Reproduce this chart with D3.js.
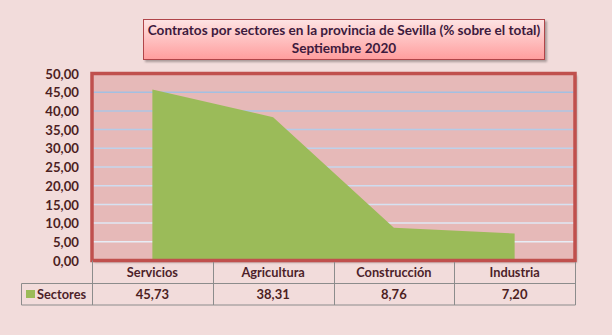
<!DOCTYPE html>
<html><head><meta charset="utf-8">
<script src="https://cdn.jsdelivr.net/npm/d3@7"></script>
<style>
html,body{margin:0;padding:0;background:#f2dcdb;}
svg{display:block;}
text{font-family:Lato,"Open Sans",sans-serif;font-weight:bold;}
</style></head>
<body>
<svg id="chart" width="612" height="335"></svg>
<script>
const categories = ["Servicios","Agricultura","Construcción","Industria"];
const values = [45.73, 38.31, 8.76, 7.20];
const seriesName = "Sectores";
const yTicks = [0,5,10,15,20,25,30,35,40,45,50];
const titleLines = ["Contratos por sectores en la provincia de Sevilla (% sobre el total)","Septiembre 2020"];

const fmt = v => d3.format(".2f")(v).replace(".", ",");
const svg = d3.select("#chart");
const W = 612, H = 335;
svg.append("rect").attr("width",W).attr("height",H).attr("fill","#f2dcdb");

const L = 92, R = 575, T = 73.5, B = 260.5;
const x = d3.scaleBand().domain(categories).range([L,R]).padding(0);
const y = d3.scaleLinear().domain([0,50]).range([B,T]);

const defs = svg.append("defs");
const tg = defs.append("linearGradient").attr("id","tg").attr("x1",0).attr("y1",0).attr("x2",0).attr("y2",1);
tg.append("stop").attr("offset","0%").attr("stop-color","#fde4e4");
tg.append("stop").attr("offset","100%").attr("stop-color","#ff9d9d");
const sh = defs.append("filter").attr("id","sh").attr("x","-10%").attr("y","-10%").attr("width","130%").attr("height","140%");
sh.append("feDropShadow").attr("dx",2).attr("dy",2).attr("stdDeviation",1.2).attr("flood-color","#000").attr("flood-opacity",0.3);

// plot area
svg.append("rect").attr("x",L).attr("y",T).attr("width",R-L).attr("height",B-T)
  .attr("fill","#e6b9b8").attr("filter","url(#sh)");

// gridlines
svg.append("g").selectAll("line").data(yTicks.filter(t=>t>0 && t<50)).join("line")
  .attr("x1",L).attr("x2",R).attr("y1",d=>y(d)).attr("y2",d=>y(d))
  .attr("stroke", d => d3.interpolateRgb("#f0f3f9","#a3c0e2")(d/45)).attr("stroke-width",1.5);

// area
const area = d3.area().x(d=>x(d.c)+x.bandwidth()/2).y0(y(0)).y1(d=>y(d.v));
svg.append("path").datum(categories.map((c,i)=>({c, v:values[i]})))
  .attr("d", area).attr("fill","#9bbb59");

// plot border
svg.append("rect").attr("x",L).attr("y",T).attr("width",R-L).attr("height",B-T)
  .attr("fill","none").attr("stroke","#c0504d").attr("stroke-width",3.5);

// y axis labels
const yAxis = d3.axisLeft(y).tickValues(yTicks).tickFormat(fmt).tickSize(0).tickPadding(0);
const ga = svg.append("g").attr("transform",`translate(79,0)`).call(yAxis);
ga.select(".domain").remove();
ga.selectAll("text").attr("font-size","13.2px").attr("fill","#4d1f1f").attr("font-family","Lato,sans-serif").attr("font-weight","bold").attr("dy","0.35em");

// table
const rowTop = 260.5, rowMid = 283.5, rowBot = 305;
const tb = svg.append("g").attr("stroke","#8c8c8c").attr("stroke-width",1).attr("fill","none");
const edges = [L, ...categories.map(c=>x(c)+x.bandwidth())];
edges.forEach((ex,i)=>{
  tb.append("line").attr("x1",Math.round(ex)+0.5).attr("x2",Math.round(ex)+0.5)
    .attr("y1", i===0 ? rowTop : rowTop+1.5).attr("y2",rowBot);
});
tb.append("line").attr("x1",21.5).attr("x2",R+0.5).attr("y1",rowMid).attr("y2",rowMid);
tb.append("line").attr("x1",21.5).attr("x2",R+0.5).attr("y1",rowBot).attr("y2",rowBot);
tb.append("line").attr("x1",21.5).attr("x2",21.5).attr("y1",rowMid).attr("y2",rowBot);

svg.append("g").selectAll("text").data(categories).join("text")
  .attr("x",d=>x(d)+x.bandwidth()/2).attr("y",277).attr("text-anchor","middle")
  .attr("font-size","12.8px").attr("fill","#4d1f2a").text(d=>d);
svg.append("g").selectAll("text").data(values).join("text")
  .attr("x",(d,i)=>x(categories[i])+x.bandwidth()/2).attr("y",299).attr("text-anchor","middle")
  .attr("font-size","13px").attr("fill","#4d1f1f").text(d=>fmt(d));

// legend key
svg.append("rect").attr("x",26).attr("y",290).attr("width",9).attr("height",8).attr("fill","#9bbb59");
svg.append("text").attr("x",37).attr("y",299).attr("font-size","12.8px").attr("fill","#4d1f2a").text(seriesName);

// title box
svg.append("rect").attr("x",143.5).attr("y",19.5).attr("width",401).attr("height",40)
  .attr("fill","url(#tg)").attr("stroke","#b0444a").attr("stroke-width",1).attr("filter","url(#sh)");
svg.append("text").attr("x",344).attr("y",35).attr("text-anchor","middle")
  .attr("font-size","13.6px").attr("fill","#3d1a3d").text(titleLines[0]);
svg.append("text").attr("x",344).attr("y",53).attr("text-anchor","middle")
  .attr("font-size","13.6px").attr("fill","#3d1a3d").text(titleLines[1]);
</script>
</body></html>
